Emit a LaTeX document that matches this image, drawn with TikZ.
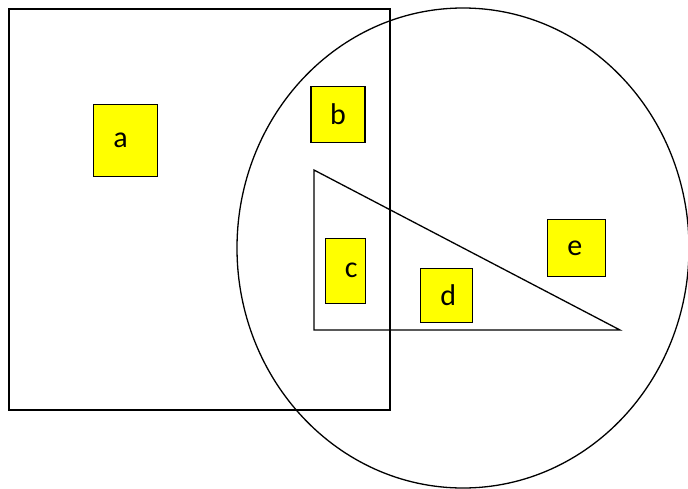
\documentclass[tikz,border=0pt]{standalone}
\usepackage{fontspec}
\setmainfont{Carlito}
\usepackage{tikz}
\usetikzlibrary{positioning}
\usepackage{xcolor}
\definecolor{boxyellow}{RGB}{255,255,0}

\tikzset{
  region/.style={draw=black, line width=1.3pt},
  tag/.style={draw=black, line width=1.3pt, fill=boxyellow, inner sep=0pt,
    font=\fontsize{30}{34}\selectfont},
}

\begin{document}
\begin{tikzpicture}[x=1pt, y=-1pt]
  \useasboundingbox (0,0) rectangle (688,488);
  % Sets: square, ellipse and triangle
  \draw[region] (9,9) rectangle (390,410);
  \draw[region] (463,248) ellipse [x radius=226, y radius=240];
  \coordinate (t1) at (314,170);
  \coordinate (t2) at (314,330);
  \coordinate (t3) at (620,330);
  \draw[region] (t1) -- (t2) -- (t3) -- cycle;
  % Labelled boxes
  \node[tag, minimum width=64pt, minimum height=72pt] (a) at (125.5,140.7) {a\hspace*{10pt}};
  \node[tag, minimum width=54pt, minimum height=56pt] (b) at (338,114.3) {b};
  \node[tag, minimum width=40pt, minimum height=65pt] (c) at (345.3,270.7) {\hspace*{12pt}c};
  \node[tag, minimum width=52pt, minimum height=54pt] (d) at (446.2,295.5) {\hspace*{4pt}d};
  \node[tag, minimum width=58pt, minimum height=57pt] (e) at (576.8,248.2) {e\hspace*{4pt}};
\end{tikzpicture}
\end{document}
